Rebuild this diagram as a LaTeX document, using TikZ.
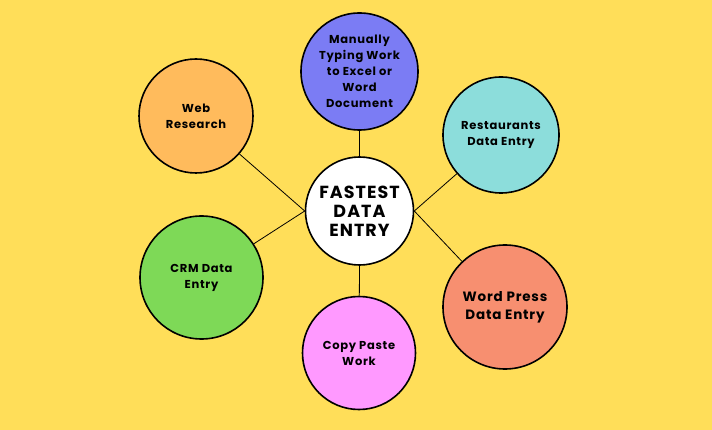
\documentclass[tikz,border=0pt]{standalone}
\usepackage{fontspec}
\setmainfont{Poppins}
\newfontfamily\lblfont[LetterSpace=6]{Poppins}
\usepackage{tikz}
\usetikzlibrary{positioning}

\definecolor{bgyellow}{HTML}{FFDE59}
\definecolor{hubwhite}{HTML}{FFFFFF}
\definecolor{topblue}{HTML}{7B7CF4}
\definecolor{weborange}{HTML}{FFBB5C}
\definecolor{crmgreen}{HTML}{7ED957}
\definecolor{restcyan}{HTML}{8CDDDB}
\definecolor{wpsalmon}{HTML}{F78F70}
\definecolor{copypink}{HTML}{FF99FF}

\begin{document}
\begin{tikzpicture}[
  x=1pt, y=-1pt,
  every node/.style={font=\lblfont\bfseries\fontsize{11.5}{16}\selectfont},
  bubble/.style={circle, draw=black, line width=1.6pt, align=center, inner sep=0pt},
  link/.style={draw=black, line width=0.8pt}
]
\useasboundingbox[fill=bgyellow] (0,0) rectangle (712,430);

% Nodes
\node[bubble, fill=hubwhite, minimum size=108pt,
      font=\lblfont\bfseries\fontsize{17.5}{19}\selectfont] (hub) at (359.5,211) {FASTEST\\DATA\\ENTRY};
\node[bubble, fill=topblue, minimum size=117pt] (typing) at (359.5,71.5) {Manually\\Typing Work\\to Excel or\\Word\\Document};
\node[bubble, fill=weborange, minimum size=114pt] (web) at (196,116) {Web\\Research};
\node[bubble, fill=crmgreen, minimum size=123pt] (crm) at (201.5,277.5) {CRM Data\\Entry};
\node[bubble, fill=restcyan, minimum size=116pt] (rest) at (501,135) {Restaurants\\Data Entry};
\node[bubble, fill=wpsalmon, minimum size=124pt,
      font=\lblfont\bfseries\fontsize{13.5}{18}\selectfont] (wp) at (505,307) {Word Press\\Data Entry};
\node[bubble, fill=copypink, minimum size=113pt] (copy) at (359,353) {Copy Paste\\Work};

% Lines
\draw[link] (typing) -- (hub.north);
\draw[link] (copy) -- (hub.south);
\draw[link] (web) -- (hub.west);
\draw[link] (crm) -- (hub.west);
\draw[link] (rest) -- (hub.east);
\draw[link] (wp) -- (hub.east);

\end{tikzpicture}
\end{document}
